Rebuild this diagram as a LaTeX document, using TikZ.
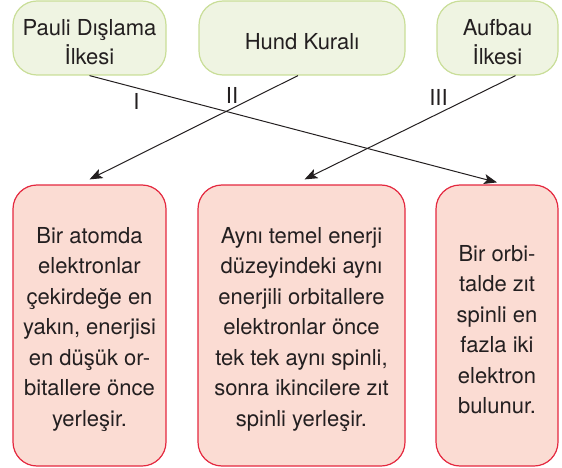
\documentclass[tikz,border=0pt]{standalone}
\usepackage{fontspec}
\setmainfont{TeX Gyre Heros}
\usetikzlibrary{calc}
\usetikzlibrary{arrows.meta}

\definecolor{ruleFill}{HTML}{EFF4E2}
\definecolor{ruleLine}{HTML}{C9DE98}
\definecolor{textFill}{HTML}{FBDCD3}
\definecolor{textLine}{HTML}{E4283F}
\definecolor{inkGray}{HTML}{231F20}

\newcommand{\toppad}{\rule{0pt}{24pt}}

\tikzset{
    rulebox/.style={draw=ruleLine,fill=ruleFill,line width=1.2pt,rounded corners=24pt,
        minimum height=74pt,inner sep=0pt,align=center,text=inkGray,
        font=\fontsize{22}{28.5}\selectfont},
    descbox/.style={draw=textLine,fill=textFill,line width=1.2pt,rounded corners=24pt,
        minimum height=281pt,inner sep=0pt,align=center,text=inkGray,
        font=\fontsize{22}{30.5}\selectfont},
    link/.style={line width=1pt,inkGray,-{Stealth[length=13pt,width=10pt,inset=3pt]}},
    roman/.style={text=inkGray,font=\fontsize{22}{24}\selectfont,inner sep=1pt}
}

\begin{document}
\begin{tikzpicture}[x=1pt,y=-1pt]%
    \useasboundingbox (0,0) rectangle (562,468);
    % ilkeler
    \node[rulebox,minimum width=153pt] (pauli) at (89.5,38) {\toppad Pauli Dışlama\\İlkesi};
    \node[rulebox,minimum width=206pt] (hund) at (302,38) {\toppad Hund Kuralı};
    \node[rulebox,minimum width=121pt] (aufbau) at (497.5,38) {\toppad Aufbau\\İlkesi};
    % tanimlar
    \node[descbox,minimum width=153pt] (atom) at (89.5,325.5)
        {\toppad Bir atomda\\elektronlar\\çekirdeğe en\\yakın, enerjisi\\en düşük or-\\bitallere önce\\yerleşir.};
    \node[descbox,minimum width=207pt] (spin) at (301.5,325.5)
        {\toppad Aynı temel enerji\\düzeyindeki aynı\\enerjili orbitallere\\elektronlar önce\\tek tek aynı spinli,\\sonra ikincilere zıt\\spinli yerleşir.};
    \node[descbox,minimum width=122pt] (orbital) at (497,325.5)
        {\toppad Bir orbi-\\talde zıt\\spinli en\\fazla iki\\elektron\\bulunur.};
    % eslestirme
    \draw[link] (pauli.south) -- node[roman,pos=0.115,below,yshift=-4pt] (lblI) {I} ([yshift=2pt]orbital.north);
    \draw[link] ([xshift=-4pt]hund.south) -- node[roman,pos=0.28,above left] (lblII) {II} ([yshift=5pt]atom.north);
    \draw[link] ([xshift=18pt]aufbau.south) -- node[roman,pos=0.3,above left,xshift=-3pt] (lblIII) {III} ([xshift=3pt,yshift=5pt]spin.north);
\end{tikzpicture}
\end{document}
